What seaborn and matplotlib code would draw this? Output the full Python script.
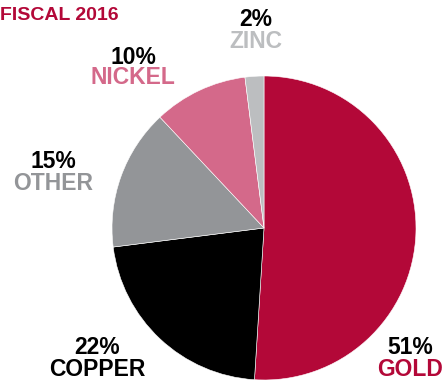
import matplotlib
matplotlib.use("Agg")
import matplotlib.pyplot as plt
import seaborn as sns

sns.set_theme(style="white")
plt.rcParams['font.family'] = ['Liberation Sans', 'DejaVu Sans']

categories = ["GOLD", "COPPER", "OTHER", "NICKEL", "ZINC"]
shares = [51, 22, 15, 10, 2]
pct_labels = ["51%", "22%", "15%", "10%", "2%"]
colors = ["#B30838", "#000000", "#939598", "#D4698A", "#BCBEC0"]
title = "FISCAL 2016"

W, H = 445, 381
fig = plt.figure(figsize=(W / 100, H / 100), dpi=100)
ax = fig.add_axes([0, 0, 1, 1])

cx, cy, r = 264, H - 228, 152
ax.pie(shares, colors=colors, startangle=90, counterclock=False,
       center=(cx, cy), radius=r, frame=True,
       wedgeprops=dict(linewidth=0.4, edgecolor="white"))
ax.set_xlim(0, W)
ax.set_ylim(0, H)
ax.axis("off")

# label positions (pixel coords from top)
label_pos = {
    "GOLD": (410, 348),
    "COPPER": (97, 348),
    "OTHER": (53, 162),
    "NICKEL": (133, 57),
    "ZINC": (256, 20),
}
name_colors = {"GOLD": "#B30838", "COPPER": "#000000", "OTHER": "#939598",
               "NICKEL": "#D4698A", "ZINC": "#BCBEC0"}
for cat, pct in zip(categories, pct_labels):
    x, y = label_pos[cat]
    ax.text(x, H - y, pct, ha="center", va="center", fontsize=16.5,
            fontweight="bold", color="black")
    ax.text(x, H - (y + 21), cat, ha="center", va="center", fontsize=16.5,
            fontweight="bold", color=name_colors[cat])

ax.text(0, H - 15, title, ha="left", va="center", fontsize=14,
        fontweight="bold", color="#B30838")

fig.savefig("out.png", dpi=100)
